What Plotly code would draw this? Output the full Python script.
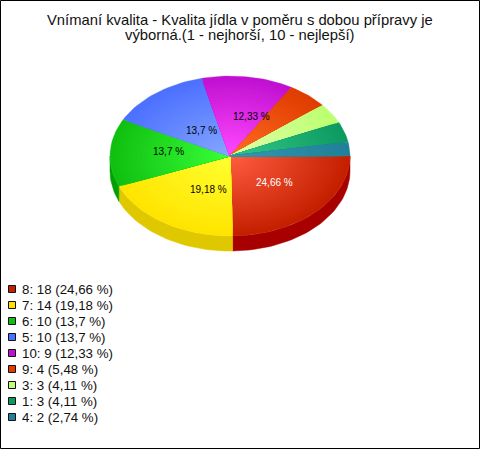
import math
import plotly.graph_objects as go

# --- data ---
categories = ["8", "7", "6", "5", "10", "9", "3", "1", "4"]
counts = [18, 14, 10, 10, 9, 4, 3, 3, 2]
percent_labels = ["24,66", "19,18", "13,7", "13,7", "12,33", "5,48", "4,11", "4,11", "2,74"]
title_lines = ["Vnímaní kvalita - Kvalita jídla v poměru s dobou přípravy je",
               "výborná.(1 - nejhorší, 10 - nejlepší)"]

# --- style ---
inner_colors = ["#FF5C40", "#FFFF30", "#38FF38", "#84A6FF", "#FF48FF", "#FF6C24", "#E0FFAC", "#34C888", "#3498B0"]
outer_colors = ["#C42000", "#FFE400", "#10C010", "#4C70FF", "#C010D0", "#E03C00", "#BCFF70", "#0C9A60", "#208098"]
side_colors = ["#A80000", "#E0C800", "#00A000", "#3050C0", "#9000A0", "#B03000", "#90C050", "#087040", "#106070"]
legend_colors = ["#C42000", "#FFE000", "#10C010", "#4C70FF", "#C010D0", "#E03C00", "#C4FF78", "#0C9A60", "#208098"]
label_colors = ["white", "black", "black", "black", "black", None, None, None, None]
label_offsets = [(2, -1), (11, 0), (-2, -3), (9, 6), (12, 0), None, None, None, None]
W, H = 480, 449
CX, CY, RX, RY, DEPTH = 230, 156, 120, 80, 15
RINGS = 30
FONT = "Liberation Sans, Arial, sans-serif"


def hex2rgb(h):
    return [int(h[i:i + 2], 16) for i in (1, 3, 5)]


def mix(a, b, t):
    a, b = hex2rgb(a), hex2rgb(b)
    return "rgb(%d,%d,%d)" % tuple(round(a[i] + (b[i] - a[i]) * t) for i in range(3))


def arc(a0, a1, frac=1.0, dy=0.0):
    n = max(2, int(abs(a1 - a0) / 2) + 2)
    angs = [a0 + (a1 - a0) * i / (n - 1) for i in range(n)]
    return ([CX + RX * frac * math.cos(math.radians(t)) for t in angs],
            [CY + dy + RY * frac * math.sin(math.radians(t)) for t in angs])


total = sum(counts)
fig = go.Figure()
spans = []
angle = 0.0
for c in counts:
    spans.append((angle, angle + 360.0 * c / total))
    angle = spans[-1][1]

# side wall
for (a0, a1), col in zip(spans, side_colors):
    lo, hi = max(a0, 0), min(a1, 180)
    if hi <= lo:
        continue
    tx, ty = arc(lo, hi)
    bx, by = arc(hi, lo, dy=DEPTH)
    fig.add_trace(go.Scatter(x=tx + bx + tx[:1], y=ty + by + ty[:1], mode="lines", fill="toself",
                             fillcolor=col, line=dict(color=col, width=0.5), hoverinfo="skip", showlegend=False))

# top face, layered for the radial shading
for (a0, a1), inner, outer in zip(spans, inner_colors, outer_colors):
    for k in range(RINGS):
        frac = 1 - k / RINGS
        col = mix(outer, inner, k / (RINGS - 1))
        ax, ay = arc(a0, a1, frac)
        fig.add_trace(go.Scatter(x=[CX] + ax + [CX], y=[CY] + ay + [CY], mode="lines", fill="toself",
                                 fillcolor=col, line=dict(color=col, width=0.3), hoverinfo="skip", showlegend=False))

annotations = []
# slice labels
for (a0, a1), pct, col, off in zip(spans, percent_labels, label_colors, label_offsets):
    if off is None:
        continue
    mid = math.radians((a0 + a1) / 2)
    annotations.append(dict(x=CX + RX * 0.5 * math.cos(mid) + off[0], y=CY + RY * 0.5 * math.sin(mid) + off[1],
                            text=pct + " %", showarrow=False, xref="x", yref="y",
                            font=dict(family=FONT, size=10, color=col)))

# title
for line, y in zip(title_lines, (20, 35)):
    annotations.append(dict(x=240, y=y, text=line, showarrow=False, xref="x", yref="y",
                            font=dict(family=FONT, size=14.8, color="#111111")))

# legend
ys = [289 + 16 * i for i in range(len(categories))]
fig.add_trace(go.Scatter(
    x=[12] * len(categories), y=ys, mode="markers",
    marker=dict(symbol="square", size=7, color=legend_colors, line=dict(color="#111111", width=1)),
    hoverinfo="skip", showlegend=False))
for cat, n, pct, y in zip(categories, counts, percent_labels, ys):
    annotations.append(dict(x=20, y=y, text=f"{cat}: {n} ({pct} %)", showarrow=False, xanchor="left",
                            xref="x", yref="y", font=dict(family=FONT, size=13.3, color="#111111")))

fig.update_layout(
    width=W, height=H, margin=dict(l=0, r=0, t=0, b=0), paper_bgcolor="white", plot_bgcolor="white",
    xaxis=dict(range=[0, W], visible=False, fixedrange=True),
    yaxis=dict(range=[H, 0], visible=False, fixedrange=True),
    annotations=annotations,
    shapes=[dict(type="rect", xref="x", yref="y", x0=0.5, y0=0.5, x1=W - 0.5, y1=H - 0.5,
                 line=dict(color="black", width=1), fillcolor="rgba(0,0,0,0)")],
)
fig.write_html("out.html", config=dict(displayModeBar=False),
               post_script="document.body.style.margin='0';document.body.style.overflow='hidden';")
